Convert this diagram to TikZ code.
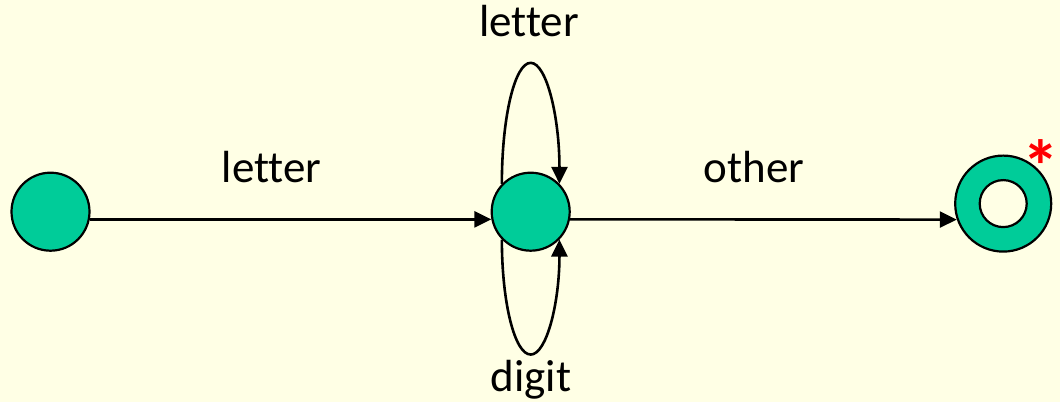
\documentclass[tikz,border=0pt]{standalone}
\usepackage{fontspec}
\setmainfont[Ligatures=NoCommon]{Carlito}
\usetikzlibrary{arrows.meta}
\definecolor{bg}{HTML}{FFFFE5}
\definecolor{stategreen}{HTML}{00CC99}
\definecolor{starred}{HTML}{FF0000}
\begin{document}
\begin{tikzpicture}[x=1pt,y=1pt,
  state/.style={circle,draw=black,line width=2.2pt,fill=stategreen,minimum size=78pt,inner sep=0pt},
  accstate/.style={state,minimum size=96pt},
  innerring/.style={circle,draw=black,line width=2.2pt,fill=bg,minimum size=47pt,inner sep=0pt},
  trans/.style={line width=2.6pt,-{Triangle[length=17pt,width=16pt]}},
  lbl/.style={font=\fontsize{45}{54}\selectfont,inner sep=0pt,anchor=base},
  star/.style={font=\bfseries\fontsize{74}{80}\selectfont,text=starred,inner sep=0pt,anchor=north east}]
\fill[bg] (0,0) rectangle (1060,402);
\useasboundingbox (0,0) rectangle (1060,402);
\node[state] (q0) at (50.5,190.3) {};
\node[state] (q1) at (530.7,190.3) {};
\node[accstate] (q2) at (1003.2,198.4) {};
\node[innerring] (q2in) at (q2.center) {};
\draw[trans] (q0.-11.5) -- (q1.191.5);
\draw[trans] (q1.-11.5) -- (q2.199.7);
\draw[trans] (q1.136) arc[start angle=180,end angle=0,x radius=28.8pt,y radius=121pt];
\draw[trans] (q1.224) arc[start angle=180,end angle=360,x radius=28.8pt,y radius=115pt];
\node[lbl] (l1) at (271.5,219) {letter};
\node[lbl] (l2) at (754,219) {other};
\node[lbl] (l3) at (529,365) {letter};
\node[lbl] (l4) at (531,10.3) {digit};
\node[star] (st) at (1060,263) {*};
\end{tikzpicture}
\end{document}
